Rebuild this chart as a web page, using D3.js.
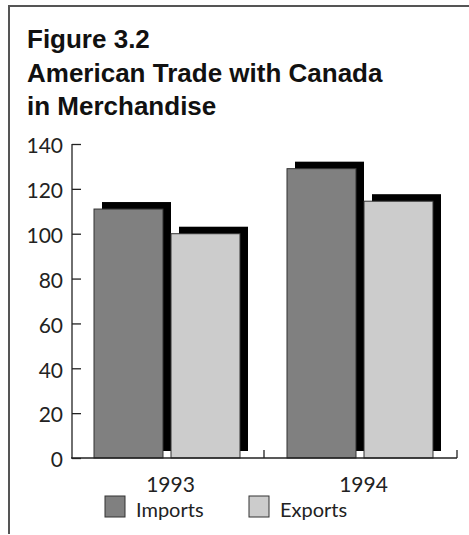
<!DOCTYPE html>
<html>
<head>
<meta charset="utf-8">
<script src="https://cdn.jsdelivr.net/npm/d3@7"></script>
<style>
  body { margin: 0; background: #fff; }
  svg { display: block; }
</style>
</head>
<body>
<div id="chart"></div>
<script>
// data (billions of dollars)
const years = ['1993', '1994'];
const series = ['Imports', 'Exports'];
const imports = [111, 129];
const exports = [100, 114.5];
const yTicks = [0, 20, 40, 60, 80, 100, 120, 140];
const colors = ['#808080', '#cccccc'];

const width = 469, height = 535;

const svg = d3.select('#chart').append('svg')
    .attr('width', width)
    .attr('height', height);

// frame (top and left rule)
svg.append('path')
    .attr('d', 'M9,534 V6 H469')
    .attr('fill', 'none')
    .attr('stroke', '#555')
    .attr('stroke-width', 2);

// title
const title = svg.append('text')
    .attr('font-family', 'Liberation Sans, Arial, sans-serif')
    .attr('font-weight', 'bold')
    .attr('font-size', 26)
    .attr('fill', '#111');
['Figure 3.2', 'American Trade with Canada', 'in Merchandise'].forEach((t, i) => {
    title.append('tspan').attr('x', 27).attr('y', 48 + i * 33.5).text(t);
});

// scales
const x0 = d3.scaleBand().domain(years).range([71, 457]);
const x1 = d3.scaleBand().domain(series).range([23, 169]).paddingInner(8 / 77);
const y = d3.scaleLinear().domain([0, 140]).range([458, 144]);

const rows = years.map((yr, i) => ({ year: yr, values: [imports[i], exports[i]] }));

const g = svg.append('g');

// bars with drop shadows
const groups = g.selectAll('.grp')
    .data(rows)
    .enter().append('g')
    .attr('class', 'grp')
    .attr('transform', d => `translate(${x0(d.year)},0)`);

groups.each(function (d) {
    const sel = d3.select(this);
    d.values.forEach((v, j) => {
        sel.append('rect')
            .attr('x', x1(series[j]) + 8)
            .attr('y', y(v) - 7)
            .attr('width', x1.bandwidth())
            .attr('height', y(0) - y(v))
            .attr('fill', '#000');
        sel.append('rect')
            .attr('x', x1(series[j]))
            .attr('y', y(v))
            .attr('width', x1.bandwidth())
            .attr('height', y(0) - y(v))
            .attr('fill', colors[j])
            .attr('stroke', '#333')
            .attr('stroke-width', 1);
    });
});

// y axis
const yAxis = svg.append('g')
    .attr('transform', 'translate(72,0)')
    .call(d3.axisLeft(y).tickValues(yTicks).tickSize(-9).tickPadding(9));
yAxis.select('.domain').attr('d', `M0,${y(0)}V${y(140)}`).attr('stroke', '#222').attr('stroke-width', 1.3);
yAxis.selectAll('.tick line').attr('stroke', '#222').attr('stroke-width', 1.3);
yAxis.selectAll('.tick text')
    .attr('font-family', 'Lato, sans-serif')
    .attr('font-size', 21)
    .attr('fill', '#222')
    .attr('dy', '0.42em');

// x axis
svg.append('line')
    .attr('x1', 71).attr('x2', 457)
    .attr('y1', y(0)).attr('y2', y(0))
    .attr('stroke', '#222').attr('stroke-width', 1.3);
svg.selectAll('.xtick')
    .data(years)
    .enter().append('line')
    .attr('class', 'xtick')
    .attr('x1', d => x0(d) + x0.bandwidth()).attr('x2', d => x0(d) + x0.bandwidth())
    .attr('y1', y(0)).attr('y2', y(0) - 8)
    .attr('stroke', '#222').attr('stroke-width', 1.3);
svg.selectAll('.xlabel')
    .data(years)
    .enter().append('text')
    .attr('class', 'xlabel')
    .attr('x', d => x0(d) + x0.bandwidth() / 2 + 3)
    .attr('y', 492)
    .attr('text-anchor', 'middle')
    .attr('font-family', 'Lato, sans-serif')
    .attr('font-size', 21)
    .attr('fill', '#222')
    .text(d => d);

// legend
const legendX = [105, 249];
const legend = svg.selectAll('.legend')
    .data(series)
    .enter().append('g')
    .attr('class', 'legend')
    .attr('transform', (d, i) => `translate(${legendX[i]},496)`);
legend.append('rect')
    .attr('width', 20).attr('height', 21)
    .attr('fill', (d, i) => colors[i])
    .attr('stroke', '#333').attr('stroke-width', 1);
legend.append('text')
    .attr('x', 31).attr('y', 21)
    .attr('font-family', 'Lato, sans-serif')
    .attr('font-size', 20)
    .attr('fill', '#222')
    .text(d => d);
</script>
</body>
</html>
